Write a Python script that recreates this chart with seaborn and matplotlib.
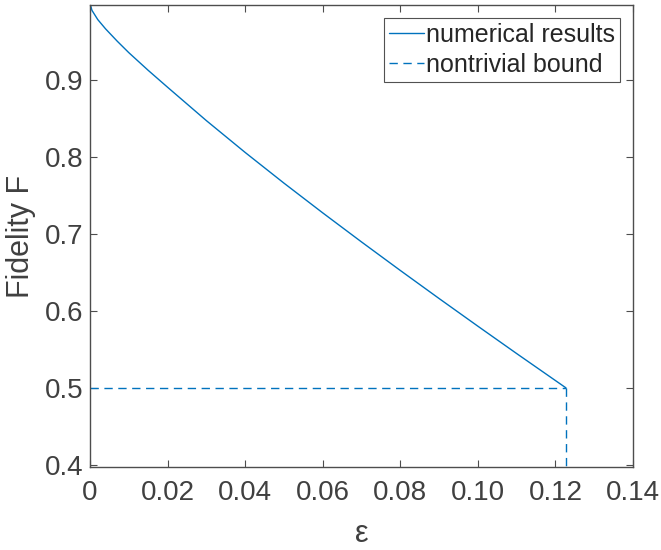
import numpy as np
import pandas as pd
import matplotlib
matplotlib.use('Agg')
import matplotlib.pyplot as plt
import seaborn as sns

# Dades llegides del gràfic
epsilon = [0, 0.0005, 0.001, 0.002, 0.004, 0.007, 0.010, 0.015, 0.020, 0.030,
           0.040, 0.050, 0.060, 0.070, 0.080, 0.090, 0.100, 0.110, 0.1227]
fidelity = [1.0, 0.991, 0.987, 0.979, 0.967, 0.951, 0.936, 0.913, 0.891, 0.8476,
            0.8062, 0.7663, 0.7276, 0.6898, 0.6527, 0.6162, 0.5802, 0.5446, 0.500]

bound_eps = 0.1227
bound_F = 0.5
y_min, y_max = 0.397, 0.998

df = pd.DataFrame({'epsilon': epsilon, 'fidelity': fidelity})

sns.set_style('ticks')
plt.rcParams['font.family'] = ['Liberation Sans', 'DejaVu Sans']
text_col = '#404040'
blue = '#0072BD'

fig = plt.figure(figsize=(6.61, 5.5), dpi=100)
ax = fig.add_axes([0.1362, 0.1509, 0.8214, 0.8400])

sns.lineplot(data=df, x='epsilon', y='fidelity', ax=ax, color=blue, lw=1.0,
             label='numerical results')
ax.plot([0, bound_eps], [bound_F, bound_F], color=blue, lw=1.0, ls=(0, (6, 4)),
        label='nontrivial bound')
ax.plot([bound_eps, bound_eps], [bound_F, y_min], color=blue, lw=1.0, ls=(0, (6, 4)))

ax.set_xlim(0, 0.14)
ax.set_ylim(y_min, y_max)
ax.set_xticks(np.arange(0, 0.141, 0.02))
ax.set_xticklabels(['0', '0.02', '0.04', '0.06', '0.08', '0.10', '0.12', '0.14'])
ax.set_yticks([0.4, 0.5, 0.6, 0.7, 0.8, 0.9])
ax.set_yticklabels(['0.4', '0.5', '0.6', '0.7', '0.8', '0.9'])

for side in ['top', 'right', 'left', 'bottom']:
    ax.spines[side].set_visible(True)
    ax.spines[side].set_color('#4d4d4d')
    ax.spines[side].set_linewidth(1.0)
ax.tick_params(direction='in', length=5, width=0.8, colors='#4d4d4d',
               labelcolor=text_col, labelsize=20, top=True, right=True)
ax.tick_params(axis='x', pad=9)
ax.tick_params(axis='y', pad=5)

ax.set_xlabel('ε', fontsize=22, color=text_col, labelpad=10)
ax.set_ylabel('Fidelity F', fontsize=22, color=text_col, labelpad=6)

leg = ax.legend(loc='upper right', fontsize=18, frameon=True, fancybox=False,
                handlelength=1.4, handletextpad=0.1, borderpad=0.2,
                labelspacing=0.25, borderaxespad=0.5)
leg.get_frame().set_edgecolor('#262626')
leg.get_frame().set_linewidth(0.8)
for t in leg.get_texts():
    t.set_color('#262626')

fig.savefig('out.png', dpi=100)
